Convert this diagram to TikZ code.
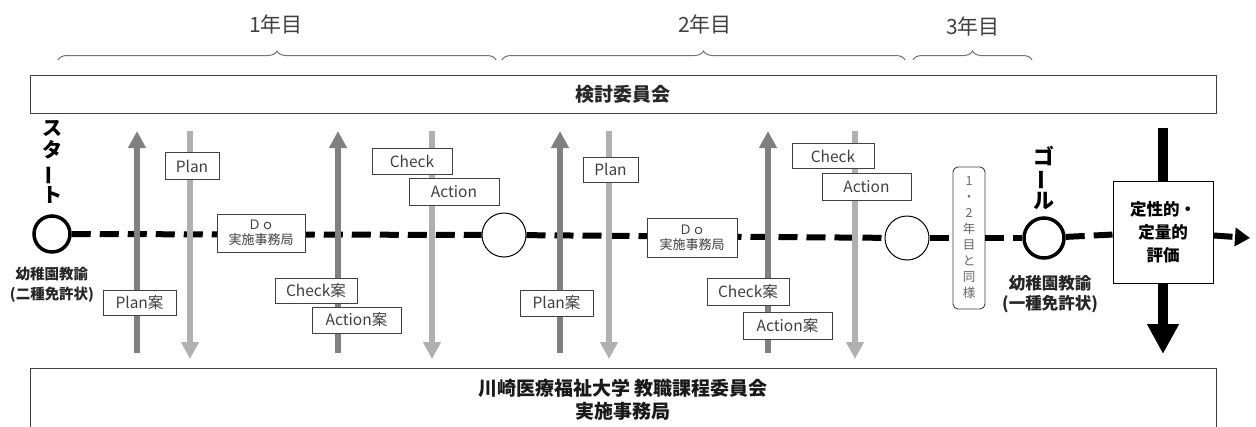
\documentclass[tikz,border=0pt]{standalone}
\usepackage{fontspec}
\setmainfont{Noto Sans CJK JP}
\usetikzlibrary{arrows.meta,decorations.pathreplacing}
\definecolor{upg}{HTML}{808080}
\definecolor{dng}{HTML}{B0B0B0}
\definecolor{txg}{HTML}{404040}
\begin{document}
\begin{tikzpicture}[x=1pt,y=-1pt,
 lbl/.style={draw=txg, fill=white, line width=0.9pt, inner sep=0pt, text=txg, font=\fontsize{15.5}{17}\selectfont},
 dobox/.style={draw=txg, fill=white, line width=0.9pt, inner sep=0pt, text=txg, align=center, font=\fontsize{13}{15}\selectfont, minimum height=38pt},
 upar/.style={draw=upg, line width=6pt, -{Triangle[width=17pt,length=17pt]}},
 dnar/.style={draw=dng, line width=6pt, -{Triangle[width=17pt,length=17pt]}},
 mainline/.style={draw=black, line width=6pt, dash pattern=on 19pt off 9pt},
 yr/.style={font=\fontsize{21}{21}\selectfont, text=black!75},
 brc/.style={draw=black!55, line width=1pt, decorate, decoration={brace, amplitude=9pt}},
 bigbox/.style={draw=black!75, line width=1pt, fill=white},
 thickc/.style={circle, draw=black, line width=3.5pt, fill=white, inner sep=0pt},
 thinc/.style={circle, draw=black, line width=1pt, fill=white, inner sep=0pt, minimum size=44pt},
 vtext/.style={align=center, font=\bfseries\fontsize{20}{22.5}\selectfont},
 lic/.style={align=center, font=\bfseries\fontsize{14.5}{20}\selectfont, text=black!85},
]
\useasboundingbox (0,0) rectangle (1256,426);
% braces and years
\coordinate (b1a) at (58,60); \coordinate (b1b) at (496,60);
\coordinate (b2a) at (502,60); \coordinate (b2b) at (905,60);
\coordinate (b3a) at (913,60); \coordinate (b3b) at (1032,60);
\draw[brc] (b1a) -- (b1b);
\draw[brc] (b2a) -- (b2b);
\draw[brc] (b3a) -- (b3b);
\node[yr] (y1) at (276,24) {1年目};
\node[yr] (y2) at (705,24) {2年目};
\node[yr] (y3) at (973,26) {3年目};
% top committee box
\node[bigbox, minimum width=1186pt, minimum height=38pt, font=\bfseries\fontsize{19}{20}\selectfont, text=black!85] (kentou) at (623,94) {検討委員会};
% bottom box
\node[bigbox, minimum width=1186pt, minimum height=64pt, align=center, font=\bfseries\fontsize{19}{23}\selectfont, text=black!90] (univ) at (623,400) {川崎医療福祉大学 教職課程委員会\\実施事務局};
% main path nodes
\node[thickc, minimum size=36pt] (start) at (52,234) {};
\node[thinc] (c1) at (504,235) {};
\node[thinc] (c2) at (907,238) {};
\node[draw=txg, rounded corners=5pt, fill=white, line width=0.9pt, minimum width=32pt, minimum height=142pt, inner sep=1pt, align=center, text=black!60, font=\fontsize{12.5}{16}\selectfont] (same) at (969,238) {1\\・\\2\\年\\目\\と\\同\\様};
\node[thickc, minimum size=40pt] (goal) at (1044,238) {};
\node[draw=black, line width=1pt, fill=white, minimum width=100pt, minimum height=102pt, align=center, font=\bfseries\fontsize{16.5}{23}\selectfont] (eval) at (1163,232) {定性的・\\定量的\\評価};
\coordinate (endtip) at (1250,238);
\draw[mainline] (start) -- (c1);
\draw[mainline] (c1) -- (c2);
\draw[mainline] (c2) -- (same);
\draw[mainline] (same) -- (goal);
\draw[mainline] (goal) -- (eval);
\draw[draw=black, line width=6pt, dash pattern=on 19pt off 9pt, -{Triangle[width=18pt,length=15pt]}] (eval) -- (endtip);
% evaluation vertical
\coordinate (evtop) at (1163,128);
\coordinate (evbot) at (1163,354);
\draw[line width=10pt] (evtop) -- (eval.north);
\draw[line width=10pt, -{Triangle[width=30pt,length=30pt]}] (eval.south) -- (evbot);
% Start / goal texts
\node[vtext] (stxt) at (52,162) {ス\\タ\\\rotatebox[origin=c]{90}{ー}\\ト};
\node[lic] (slic) at (52,285) {幼稚園教諭\\(二種免許状)};
\node[vtext, font=\bfseries\fontsize{21}{20.5}\selectfont] (gtxt) at (1044,178) {ゴ\\\rotatebox[origin=c]{90}{ー}\\ル};
\node[lic, font=\bfseries\fontsize{16.5}{20}\selectfont] (glic) at (1050,294) {幼稚園教諭\\(一種免許状)};
% vertical arrows
\foreach \i/\x in {1/137,2/338,3/560,4/768}{
  \coordinate (ub\i) at (\x,353);
  \coordinate (ut\i) at (\x,131);
  \draw[upar] (ub\i) -- (ut\i);
}
\foreach \i/\x in {1/190,2/432,3/609,4/855}{
  \coordinate (dt\i) at (\x,131);
  \coordinate (db\i) at (\x,359);
  \draw[dnar] (dt\i) -- (db\i);
}
% labels, year 1
\node[lbl, minimum width=54pt, minimum height=27pt] (plan1) at (192,166) {Plan};
\node[lbl, minimum width=73pt, minimum height=25pt] (plana1) at (139.5,302.5) {Plan案};
\node[dobox, minimum width=88pt] (do1) at (261,233) {Ｄｏ\\実施事務局};
\node[lbl, minimum width=82pt, minimum height=25pt] (checka1) at (316,290.5) {Check案};
\node[lbl, minimum width=89pt, minimum height=26pt] (actiona1) at (356.5,320) {Action案};
\node[lbl, minimum width=80pt, minimum height=26pt] (check1) at (412,161) {Check};
\node[lbl, minimum width=90pt, minimum height=27pt] (action1) at (454,191.5) {Action};
% labels, year 2
\node[lbl, minimum width=55pt, minimum height=25pt] (plan2) at (610.5,169.5) {Plan};
\node[lbl, minimum width=73pt, minimum height=26pt] (plana2) at (556.5,303) {Plan案};
\node[dobox, minimum width=90pt, minimum height=39pt] (do2) at (692,237.5) {Ｄｏ\\実施事務局};
\node[lbl, minimum width=82pt, minimum height=27pt] (checka2) at (748,291.5) {Check案};
\node[lbl, minimum width=89pt, minimum height=27pt] (actiona2) at (787.5,325.5) {Action案};
\node[lbl, minimum width=82pt, minimum height=25pt] (check2) at (833,156) {Check};
\node[lbl, minimum width=89pt, minimum height=27pt] (action2) at (866.5,186.5) {Action};
\end{tikzpicture}
\end{document}
